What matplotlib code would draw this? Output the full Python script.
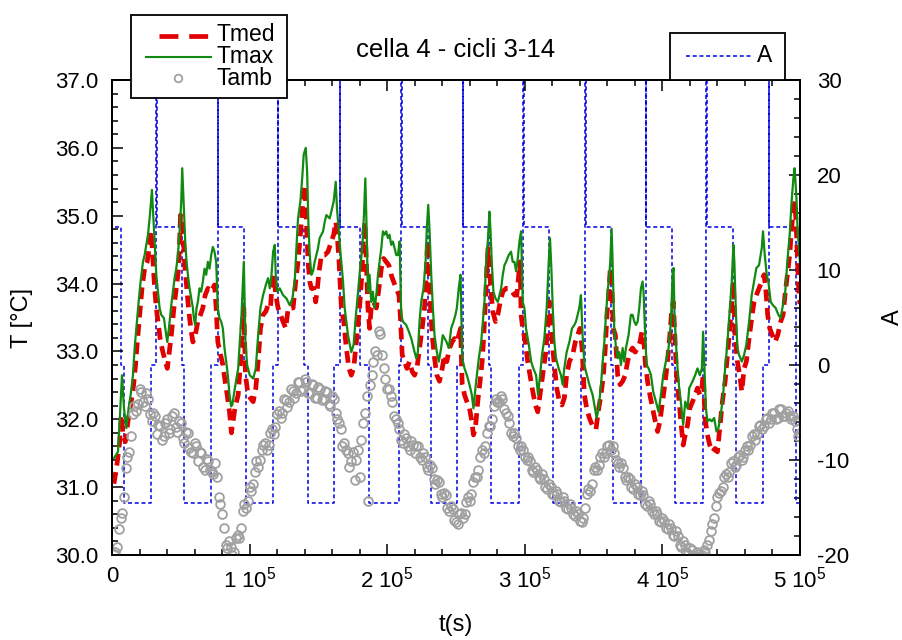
import numpy as np
import matplotlib
matplotlib.use('Agg')
import matplotlib.pyplot as plt
from matplotlib.lines import Line2D
from matplotlib.patches import Rectangle
from matplotlib.ticker import MultipleLocator, FormatStrFormatter

FONT = 'Liberation Sans'
plt.rcParams['font.family'] = [FONT, 'DejaVu Sans']
plt.rcParams['mathtext.fontset'] = 'custom'
plt.rcParams['mathtext.rm'] = FONT
plt.rcParams['mathtext.default'] = 'regular'
plt.rcParams['axes.unicode_minus'] = False
FS_TICK, FS_LEG, FS_LAB, FS_TITLE = 16, 16.5, 17, 18.5

# ---------------- data (time in kiloseconds) ----------------
tmax_t = [1.45, 4.35, 5.57, 7.26, 8.71, 10.40, 12.10, 13.55, 15.24, 16.45, 17.66, 19.35, 20.80, 22.50, 23.71,
          24.92, 26.13, 27.34, 29.03, 30.00, 30.97, 32.18, 33.38, 34.59, 35.80, 37.74, 38.70, 40.16, 41.37,
          43.06, 44.27, 45.48, 46.69, 47.90, 49.11, 50.32, 51.04, 52.25, 53.22, 54.19, 55.15, 56.36, 57.57,
          58.78, 59.50, 60.47, 61.44, 62.41, 63.62, 64.83, 66.04, 67.25, 68.46, 69.67, 70.88, 72.09, 73.30,
          74.50, 75.71, 76.92, 78.13, 79.34, 80.55, 81.76, 82.97, 84.18, 85.39, 86.60, 87.5, 89.3, 91.7, 94.1,
          95.8, 97.0, 98.2, 100.1, 102.6, 104.5, 106.2, 107.9, 109.8, 111.8, 113.4, 114.7, 115.9, 117.1, 118.3,
          119.0, 120.2, 121.9, 124.3, 126.8, 129.2, 131.1, 132.8, 134.0, 135.2, 136.9, 138.4, 139.3, 140.8,
          141.8, 142.7, 143.7, 144.9, 146.1, 147.3, 148.5, 149.7, 150.9, 153.4, 154.6, 155.8, 158.2, 159.4,
          161.1, 162.6, 163.5, 165.0, 166.2, 167.9, 169.1, 171.5, 173.9, 175.6, 177.1, 178.7, 180.4, 181.9,
          183.1, 184.1, 184.8, 186.0, 187.2, 188.4, 189.6, 190.8, 192.1, 193.3, 194.5, 195.7, 196.9, 198.1,
          199.3, 200.5, 201.7, 202.9, 204.1, 205.4, 206.6, 207.8, 209.0, 210.2, 211.4, 213.8, 215.8, 217.5,
          219.9, 221.1, 222.3, 223.5, 224.7, 226.4, 227.9, 228.8, 229.8, 230.8, 232.0, 233.2, 234.4, 236.1,
          237.5, 239.2, 240.4, 242.9, 244.8, 246.5, 248.2, 249.6, 250.6, 252.0, 253.3, 254.5, 256.2, 257.9,
          259.8, 261.5, 262.7, 264.6, 266.6, 268.3, 269.5, 270.7, 271.9, 273.1, 274.3, 275.0, 276.0, 277.2,
          278.7, 280.4, 281.6, 282.8, 284.0, 285.2, 286.4, 288.3, 290.0, 291.2, 292.5, 293.7, 294.9, 296.1,
          297.3, 298.5, 299.7, 300.9, 302.9, 304.6, 306.2, 308.2, 309.6, 311.1, 312.5, 314.2, 315.9, 317.4,
          318.3, 319.3, 320.3, 321.5, 322.7, 324.6, 326.3, 327.5, 328.7, 330.4, 332.4, 334.3, 336.0, 337.2,
          338.4, 339.6, 340.8, 342.0, 343.3, 344.5, 346.9, 349.3, 352.2, 353.7, 355.4, 356.6, 357.8, 359.0,
          360.2, 361.4, 362.1, 363.1, 363.8, 365.0, 366.3, 367.5, 368.7, 369.9, 371.1, 372.3, 373.5, 375.4,
          377.1, 378.3, 379.6, 380.8, 382.0, 383.2, 384.4, 385.6, 386.3, 387.5, 388.5, 390.0, 391.7, 393.3,
          395.3, 397.2, 398.9, 400.6, 402.5, 404.5, 406.2, 407.4, 408.1, 408.8, 409.8, 411.0, 412.2, 413.4,
          415.1, 416.6, 418.3, 419.5, 421.9, 423.8, 425.5, 427.2, 428.7, 429.6, 430.6, 431.6, 432.8, 434.5,
          435.9, 437.6, 439.3, 440.7, 442.4, 444.1, 445.6, 447.3, 449.0, 450.4, 451.6, 452.3, 453.3, 454.5,
          455.7, 457.7, 459.4, 461.0, 463.0, 464.9, 466.6, 468.3, 470.2, 472.2, 473.1, 474.4, 475.8, 477.0,
          478.7, 480.4, 482.3, 484.3, 486.0, 487.2, 489.1, 490.8, 492.5, 493.9, 495.2, 496.1, 497.3, 498.3,
          499.3, 500.0]
tmax_v = [31.43, 31.52, 31.97, 32.65, 32.16, 31.87, 32.16, 32.36, 32.65, 33.05, 33.34, 33.73, 34.03, 34.32, 34.42,
          34.57, 34.72, 34.96, 35.38, 35.01, 34.62, 34.13, 33.88, 33.64, 33.54, 33.49, 33.34, 33.14, 33.34,
          33.68, 33.88, 34.08, 34.22, 34.42, 34.76, 35.21, 35.70, 35.11, 34.62, 34.32, 34.13, 33.93, 33.78,
          33.64, 33.49, 33.39, 33.64, 33.73, 33.93, 33.88, 34.03, 34.22, 34.13, 34.32, 34.22, 34.42, 34.54,
          34.47, 34.32, 33.64, 33.49, 33.44, 33.34, 33.05, 32.85, 32.65, 32.36, 32.19, 32.22, 32.46, 32.75, 33.54,
          34.32, 33.14, 32.80, 32.65, 32.60, 32.75, 33.24, 33.64, 33.83, 33.98, 34.08, 33.93, 34.13, 34.47, 34.57,
          34.13, 33.88, 33.93, 33.83, 33.78, 33.68, 33.78, 34.03, 34.52, 34.96, 35.21, 35.60, 35.90, 36.00,
          35.65, 34.91, 34.42, 34.13, 34.18, 34.32, 34.42, 34.52, 34.67, 34.77, 34.91, 35.01, 34.96, 35.06,
          35.21, 35.50, 35.11, 34.72, 34.42, 34.03, 33.64, 33.24, 32.99, 33.10, 33.50, 33.85, 34.25, 34.52,
          35.01, 35.55, 35.01, 33.88, 34.13, 33.73, 33.88, 33.64, 33.83, 34.13, 34.32, 34.52, 34.77, 34.72,
          34.77, 34.67, 34.72, 34.57, 34.62, 34.52, 34.42, 34.42, 34.62, 33.54, 33.44, 33.39, 33.29, 33.19,
          32.99, 32.90, 32.99, 33.44, 33.73, 33.93, 34.32, 34.81, 35.16, 34.77, 34.13, 33.64, 33.24, 32.99,
          32.85, 33.05, 33.24, 33.15, 33.05, 33.34, 33.44, 33.54, 33.64, 33.93, 34.13, 32.90, 32.75, 32.65,
          32.51, 32.36, 32.16, 32.55, 32.90, 33.14, 33.44, 33.73, 34.32, 34.62, 35.06, 34.81, 34.32, 33.88,
          33.78, 33.73, 33.83, 33.93, 34.13, 34.27, 34.32, 34.42, 34.47, 34.32, 34.32, 34.18, 34.37, 34.62,
          34.77, 33.73, 33.64, 33.34, 33.10, 32.85, 32.75, 32.65, 32.36, 32.65, 32.95, 33.19, 33.64, 34.32,
          34.67, 34.23, 33.64, 33.14, 32.90, 32.75, 32.65, 32.51, 32.75, 32.99, 33.14, 33.34, 33.39, 33.44,
          33.54, 33.64, 33.83, 33.24, 32.80, 32.70, 32.51, 32.36, 32.02, 32.16, 32.51, 32.85, 33.14, 33.54,
          33.88, 34.13, 34.32, 34.81, 34.32, 33.34, 33.05, 32.90, 32.99, 32.80, 33.05, 32.85, 33.05, 33.24,
          33.54, 33.54, 33.44, 33.39, 33.44, 33.64, 33.93, 34.03, 33.88, 33.24, 32.80, 32.75, 32.65, 32.41,
          32.26, 32.11, 32.36, 32.65, 32.85, 33.05, 33.44, 34.13, 34.23, 33.54, 33.14, 32.75, 32.46, 32.26,
          31.92, 32.26, 32.16, 32.46, 32.56, 32.65, 32.75, 32.65, 32.75, 33.29, 32.75, 32.16, 31.97, 32.00,
          31.97, 32.02, 31.82, 31.87, 32.06, 32.36, 32.75, 33.14, 33.64, 34.03, 34.57, 34.32, 33.64, 33.05,
          32.95, 32.85, 32.95, 33.10, 33.44, 33.83, 34.03, 34.23, 34.27, 34.52, 34.77, 34.42, 34.13, 34.03,
          33.73, 33.68, 33.64, 33.54, 33.49, 33.64, 33.83, 34.32, 34.72, 35.21, 35.55, 35.70, 35.31, 34.77,
          34.52, 34.30]

tmed_t = [1.45, 3.9, 5.6, 6.8, 8.0, 9.7, 11.6, 13.5, 15.2, 16.9, 18.4, 20.1, 21.8, 23.7, 25.6, 27.3, 28.5,
          29.8, 31.0, 32.2, 33.4, 35.3, 37.0, 38.7, 40.2, 41.4, 43.1, 45.0, 46.7, 48.4, 49.8, 50.8, 51.8, 52.7,
          53.9, 55.2, 56.4, 57.6, 58.8, 60.5, 62.4, 64.3, 66.0, 67.7, 69.7, 71.6, 73.3, 74.5, 75.7, 76.9, 78.9,
          80.6, 82.2, 83.7, 85.4, 86.8, 89.3, 91.7, 93.4, 94.8, 95.8, 97.0, 98.9, 100.6, 102.6, 104.5, 106.2,
          107.9, 109.8, 111.8, 113.4, 115.1, 116.6, 117.8, 119.0, 120.7, 122.4, 124.3, 126.3, 128.0, 129.7,
          131.6, 133.5, 135.2, 136.9, 138.4, 140.1, 141.3, 142.5, 143.7, 144.9, 146.6, 148.0, 149.0, 150.5,
          152.2, 154.6, 157.0, 159.4, 161.1, 162.6, 163.5, 165.0, 166.7, 168.4, 170.3, 172.2, 173.9, 175.6,
          177.6, 179.5, 181.6, 182.9, 183.8, 184.8, 186.0, 187.2, 188.4, 190.1, 192.1, 194.0, 195.7, 197.4,
          199.3, 201.2, 202.9, 204.6, 206.6, 208.5, 209.5, 210.9, 212.6, 214.3, 216.2, 218.2, 219.9, 221.6,
          223.5, 225.4, 227.1, 228.3, 229.3, 230.3, 231.5, 232.7, 234.4, 236.1, 238.0, 240.0, 241.6, 243.3,
          245.3, 247.2, 248.9, 250.6, 252.0, 253.3, 254.5, 256.2, 257.9, 259.8, 261.5, 262.7, 264.1, 265.8,
          267.5, 269.0, 270.2, 271.4, 272.4, 273.3, 274.3, 275.5, 276.7, 278.7, 280.4, 282.1, 284.0, 286.4,
          288.3, 290.8, 292.5, 294.2, 295.6, 296.6, 297.3, 298.5, 300.4, 302.1, 303.8, 305.8, 307.7, 309.4,
          311.1, 313.0, 315.0, 316.6, 317.9, 319.1, 320.3, 321.7, 323.2, 325.1, 327.0, 328.7, 330.4, 332.4,
          334.8, 336.7, 338.4, 340.1, 341.6, 343.3, 345.0, 346.9, 349.3, 351.7, 353.7, 355.4, 357.1, 358.5,
          359.7, 360.9, 362.1, 363.1, 364.3, 365.8, 367.5, 369.2, 371.1, 373.0, 374.7, 376.4, 378.3, 380.3,
          382.0, 383.7, 385.1, 386.3, 387.5, 389.2, 390.9, 392.9, 394.8, 396.5, 398.2, 400.1, 402.1, 403.7,
          405.4, 406.9, 407.9, 408.8, 410.3, 411.7, 413.4, 415.1, 416.6, 418.3, 419.9, 421.9, 423.8, 425.5,
          427.2, 428.7, 429.6, 431.1, 432.7, 434.4, 436.4, 438.3, 440.0, 441.7, 443.6, 445.6, 447.3, 449.0,
          450.4, 451.6, 452.8, 454.5, 456.2, 457.7, 459.4, 461.0, 463.0, 464.9, 466.6, 468.3, 470.2, 472.2,
          473.9, 475.1, 476.5, 478.0, 479.9, 481.9, 483.8, 486.0, 487.7, 489.1, 490.8, 492.5, 493.9, 495.2,
          496.4, 497.3, 498.3, 499.3, 500.0]
tmed_v = [31.05, 31.38, 31.67, 32.06, 31.77, 31.67, 31.97, 32.21, 32.41, 32.75, 33.14, 33.54, 33.93, 34.22, 34.32,
          34.57, 34.77, 34.32, 33.93, 33.64, 33.44, 33.14, 32.99, 32.85, 32.75, 32.95, 33.24, 33.64, 33.93, 34.22,
          35.01, 34.91, 34.72, 34.32, 34.03, 33.73, 33.49, 33.29, 33.14, 33.24, 33.44, 33.54, 33.64, 33.83, 33.93,
          33.88, 33.93, 33.98, 33.64, 33.14, 32.95, 32.80, 32.56, 32.36, 32.11, 31.80, 32.16, 32.36, 32.85, 33.44,
          33.64, 32.65, 32.36, 32.31, 32.26, 32.46, 32.85, 33.34, 33.54, 33.59, 33.68, 33.64, 34.03, 34.13, 33.83,
          33.64, 33.54, 33.44, 33.34, 33.64, 33.64, 33.64, 34.03, 34.32, 34.72, 35.11, 35.45, 34.91, 34.32, 34.03,
          33.93, 33.93, 33.73, 33.88, 34.18, 34.42, 34.42, 34.47, 34.62, 34.72, 34.91, 34.77, 34.32, 33.64, 33.44,
          33.05, 32.75, 32.65, 32.75, 33.14, 33.54, 34.13, 34.72, 34.91, 34.32, 33.64, 33.34, 33.64, 33.73, 33.64,
          33.93, 34.22, 34.37, 34.32, 34.27, 34.13, 34.03, 33.93, 33.83, 33.54, 32.95, 32.85, 32.75, 32.85, 32.70,
          32.65, 32.75, 33.05, 33.34, 33.64, 34.13, 34.62, 34.32, 33.64, 33.24, 32.90, 32.65, 32.56, 32.75, 32.95,
          32.85, 33.05, 33.14, 33.19, 33.14, 33.24, 33.34, 32.51, 32.36, 32.26, 32.16, 31.97, 31.77, 31.87, 32.26,
          32.56, 32.85, 33.24, 33.73, 34.22, 34.52, 34.22, 33.88, 33.59, 33.44, 33.54, 33.73, 33.88, 33.93, 33.93,
          33.88, 33.83, 33.83, 34.13, 34.32, 33.54, 33.34, 33.14, 32.85, 32.65, 32.41, 32.21, 32.11, 32.36, 32.65,
          32.95, 33.34, 33.73, 33.44, 33.05, 32.75, 32.46, 32.26, 32.21, 32.31, 32.65, 32.85, 32.95, 33.14, 33.24,
          33.34, 33.05, 32.36, 32.16, 32.02, 31.90, 31.85, 32.16, 32.36, 32.65, 33.05, 33.54, 33.83, 34.22, 34.03,
          33.34, 33.24, 32.65, 32.51, 32.56, 32.65, 32.85, 32.99, 33.05, 32.99, 33.05, 33.14, 33.29, 33.24, 32.85,
          32.56, 32.36, 32.16, 31.97, 31.82, 31.97, 32.26, 32.56, 32.85, 33.24, 33.64, 33.73, 33.34, 32.65, 32.36,
          31.97, 31.62, 31.77, 31.92, 32.16, 32.26, 32.36, 32.46, 32.36, 32.46, 32.65, 32.00, 31.77, 31.62, 31.52,
          31.57, 31.52, 31.87, 32.26, 32.56, 32.95, 33.34, 33.73, 34.03, 33.24, 32.85, 32.65, 32.41, 32.75, 32.85,
          33.19, 33.49, 33.73, 33.83, 33.93, 34.03, 34.13, 33.93, 33.54, 33.34, 33.24, 33.14, 33.24, 33.44, 33.54,
          33.83, 34.13, 34.42, 34.81, 35.11, 35.21, 34.81, 34.32, 33.80, 33.70]

# Tamb: two interleaved sample sets (every 2.5 ks, offset by 1.25 ks)
tamb_a_t = np.arange(1, 201) * 2.5
tamb_a_v = [30.05, 30.38, 30.62, 31.28, 31.52, 32.08, 32.12, 32.45, 32.25, 32.38,
            32.08, 32.10, 31.78, 31.90, 31.75, 32.00, 31.85, 32.10, 31.82, 31.95,
            31.65, 31.80, 31.52, 31.65, 31.38, 31.50, 31.25, 31.38, 31.22, 31.35,
            30.85, 30.60, 30.15, 30.20, 30.00, 30.25, 30.25, 30.65, 30.70, 31.00,
            31.05, 31.38, 31.40, 31.62, 31.55, 31.80, 31.78, 32.08, 32.02, 32.30,
            32.18, 32.45, 32.32, 32.55, 32.42, 32.60, 32.38, 32.52, 32.32, 32.48,
            32.28, 32.42, 32.22, 32.35, 32.10, 31.95, 31.60, 31.55, 31.30, 31.52,
            31.40, 31.15, 31.95, 32.35, 32.50, 32.85, 32.95, 33.25, 32.75, 32.45,
            32.35, 32.05, 31.95, 31.70, 31.78, 31.60, 31.68, 31.50, 31.60, 31.40,
            31.45, 31.25, 31.28, 31.05, 31.08, 30.85, 30.88, 30.65, 30.68, 30.48,
            30.60, 30.55, 30.78, 30.80, 31.08, 31.15, 31.45, 31.50, 31.80, 31.90,
            32.20, 32.25, 32.35, 32.15, 32.05, 31.80, 31.80, 31.60, 31.60, 31.45,
            31.45, 31.25, 31.30, 31.15, 31.20, 31.00, 31.05, 30.90, 30.95, 30.80,
            30.85, 30.70, 30.75, 30.60, 30.65, 30.50, 30.55, 30.90, 30.95, 31.25,
            31.25, 31.45, 31.45, 31.60, 31.55, 31.50, 31.35, 31.35, 31.15, 31.15,
            31.00, 31.05, 30.90, 30.95, 30.75, 30.80, 30.65, 30.65, 30.50, 30.55,
            30.40, 30.45, 30.30, 30.35, 30.15, 30.20, 30.05, 30.10, 30.00, 30.05,
            29.98, 30.08, 30.15, 30.35, 30.55, 30.85, 30.95, 31.15, 31.15, 31.35,
            31.30, 31.45, 31.40, 31.55, 31.55, 31.75, 31.70, 31.90, 31.85, 32.00,
            31.95, 32.10, 32.00, 32.15, 32.05, 32.10, 32.05, 32.05, 31.85, 31.80]
tamb_b_t = np.arange(1, 201) * 2.5 - 1.25
tamb_b_v = [30.02, 30.12, 30.55, 30.85, 31.45, 31.75, 32.20, 32.22, 32.40, 32.20,
            32.30, 31.98, 32.05, 31.92, 31.70, 31.95, 31.80, 32.05, 31.88, 31.98,
            31.72, 31.82, 31.58, 31.50, 31.60, 31.52, 31.30, 31.42, 31.25, 31.20,
            31.15, 30.75, 30.40, 30.10, 30.12, 30.05, 30.30, 30.40, 30.75, 30.80,
            30.95, 31.22, 31.30, 31.55, 31.65, 31.62, 31.85, 31.88, 32.12, 32.10,
            32.28, 32.25, 32.42, 32.38, 32.55, 32.45, 32.55, 32.38, 32.50, 32.32,
            32.45, 32.30, 32.40, 32.20, 32.30, 32.00, 31.85, 31.65, 31.50, 31.38,
            31.10, 31.55, 31.70, 32.10, 30.80, 32.65, 33.00, 33.30, 32.95, 32.60,
            32.45, 32.25, 32.00, 31.85, 31.65, 31.72, 31.55, 31.62, 31.60, 31.45,
            31.50, 31.30, 31.32, 31.12, 31.10, 30.90, 30.92, 30.70, 30.72, 30.52,
            30.45, 30.62, 30.60, 30.85, 30.90, 31.15, 31.25, 31.55, 31.60, 31.90,
            32.00, 32.30, 32.25, 32.30, 32.10, 31.95, 31.75, 31.72, 31.55, 31.55,
            31.40, 31.38, 31.22, 31.25, 31.12, 31.12, 30.98, 31.00, 30.88, 30.90,
            30.78, 30.80, 30.68, 30.70, 30.58, 30.60, 30.48, 30.70, 30.98, 31.05,
            31.30, 31.32, 31.50, 31.50, 31.62, 31.60, 31.40, 31.30, 31.28, 31.10,
            31.12, 30.98, 31.00, 30.88, 30.88, 30.72, 30.75, 30.60, 30.60, 30.48,
            30.50, 30.38, 30.40, 30.28, 30.28, 30.12, 30.15, 30.02, 30.08, 29.98,
            30.02, 30.00, 30.05, 30.22, 30.45, 30.72, 30.92, 31.00, 31.20, 31.22,
            31.38, 31.32, 31.48, 31.45, 31.60, 31.62, 31.78, 31.78, 31.92, 31.90,
            32.02, 32.00, 32.10, 32.02, 32.15, 32.05, 32.12, 32.00, 31.98, 31.75]

a_t = [1.96, 6.31, 8.71, 28.08, 32.15,
       32.45, 50.80, 52.25, 72.06, 76.92,
       77.22, 95.79, 97.24, 117.06, 120.68,
       120.98, 139.33, 142.45, 161.10, 165.46,
       165.76, 179.97, 186.72, 208.49, 210.23,
       210.53, 229.54, 232.00, 250.58, 254.94,
       255.24, 274.31, 275.55, 296.09, 298.99,
       299.29, 317.86, 320.25, 340.86, 343.98,
       344.28, 362.63, 363.79, 384.40, 388.03,
       388.33, 407.33, 409.29, 429.61, 432.00,
       432.30, 451.37, 453.77, 473.15, 477.51,
       477.81, 496.89, 500.00]
a_v = [14.5, 0, -14.5, 0, 60,
       14.5, 0, -14.5, 0, 60,
       14.5, 0, -14.5, 0, 60,
       14.5, 0, -14.5, 0, 60,
       14.5, 0, -14.5, 0, 60,
       14.5, 0, -14.5, 0, 60,
       14.5, 0, -14.5, 0, 60,
       14.5, 0, -14.5, 0, 60,
       14.5, 0, -14.5, 0, 60,
       14.5, 0, -14.5, 0, 60,
       14.5, 0, -14.5, 0, 60,
       14.5, -14.5, -14.5]

series_labels = ['Tmed', 'Tmax', 'Tamb']
xtick_vals = [0, 1e5, 2e5, 3e5, 4e5, 5e5]
xtick_labels = ['0', '1 10$^5$', '2 10$^5$', '3 10$^5$', '4 10$^5$', '5 10$^5$']

KS = 1000.0
RED, GREEN, GRAY, BLUE = '#e00000', '#118a11', '#a0a0a0', '#0000e6'

W, H = 903, 640
fig = plt.figure(figsize=(W / 100, H / 100), dpi=100)
L, R, T, B = 112, 800, 80, 555
ax = fig.add_axes([L / W, 1 - B / H, (R - L) / W, (B - T) / H])
ax2 = ax.twinx()
ax.set_zorder(ax2.get_zorder() + 1)
ax.patch.set_visible(False)

ax2.plot(np.array(a_t) * KS, a_v, drawstyle='steps-post', color=BLUE, lw=1.1,
         linestyle=(0, (2.6, 1.8)))
ax.plot(np.array(tmed_t) * KS, tmed_v, color=RED, lw=3.4, linestyle=(0, (2.5, 1.4)),
        dash_capstyle='butt')
ax.plot(np.array(tmax_t) * KS, tmax_v, color=GREEN, lw=1.6)
ax.plot(tamb_a_t * KS, tamb_a_v, 'o', mfc='none', mec=GRAY, ms=6.3, mew=1.3)
ax.plot(tamb_b_t * KS, tamb_b_v, 'o', mfc='none', mec=GRAY, ms=6.3, mew=1.3)

ax.set_xlim(0, 5e5)
ax.set_ylim(30, 37)
ax2.set_ylim(-20, 30)

ax.set_xticks(xtick_vals, xtick_labels)
ax.xaxis.set_minor_locator(MultipleLocator(2e4))
ax.yaxis.set_major_locator(MultipleLocator(1.0))
ax.yaxis.set_minor_locator(MultipleLocator(0.2))
ax.yaxis.set_major_formatter(FormatStrFormatter('%.1f'))
ax2.yaxis.set_major_locator(MultipleLocator(10))
ax2.yaxis.set_minor_locator(MultipleLocator(2))

for a in (ax, ax2):
    for s in a.spines.values():
        s.set_linewidth(1.3)
ax.tick_params(which='both', direction='in', top=True, right=False, width=1.1, labelsize=FS_TICK)
ax.tick_params(which='major', length=8)
ax.tick_params(which='minor', length=4.5)
ax.tick_params(axis='y', pad=10)
ax.tick_params(axis='x', pad=8)
ax2.tick_params(which='both', direction='in', width=1.1, labelsize=FS_TICK, pad=12)
ax2.tick_params(which='major', length=8)
ax2.tick_params(which='minor', length=4.5)

ax.set_ylabel('T [°C]', fontsize=FS_LAB)
ax.yaxis.label.set_va('center')
ax.yaxis.set_label_coords((22 - L) / (R - L), 0.5)
ax2.set_ylabel('A', fontsize=FS_LAB, rotation=90)
ax2.yaxis.label.set_va('center')
ax2.yaxis.set_label_coords((893 - L) / (R - L), 0.5)
ax.set_xlabel('t(s)', fontsize=FS_LAB)
ax.xaxis.label.set_va('center')
ax.xaxis.set_label_coords(0.5, (B - 625) / (B - T))
ax.text(0.5, (B - 50) / (B - T), 'cella 4 - cicli 3-14', transform=ax.transAxes,
        ha='center', va='center', fontsize=FS_TITLE)

# ---- legends drawn in figure pixel space ----
def fx(x):
    return x / W

def fy(y):
    return 1 - y / H

def box(x0, y0, x1, y1):
    fig.add_artist(Rectangle((fx(x0), fy(y1)), fx(x1) - fx(x0), fy(y0) - fy(y1),
                             transform=fig.transFigure, fc='white', ec='black', lw=1.3, zorder=20))

box(131.5, 14.5, 287, 97.5)
fig.add_artist(Line2D([fx(159), fx(208)], [fy(35.7)] * 2, transform=fig.transFigure, color=RED,
                      lw=3.4, linestyle=(0, (4.0, 2.3)), dash_capstyle='butt', zorder=21))
fig.add_artist(Line2D([fx(146), fx(211)], [fy(57.3)] * 2, transform=fig.transFigure, color=GREEN,
                      lw=1.5, zorder=21))
fig.add_artist(Line2D([fx(178.3)], [fy(77.7)], transform=fig.transFigure, marker='o', mfc='none',
                      mec=GRAY, ms=5.5, mew=1.3, linestyle='none', zorder=21))
# the three entry labels are stacked tightly, as in the reference, in one text block
fig.text(fx(217), fy(56.5), '\n'.join(series_labels), ha='left', va='center',
         fontsize=FS_LEG, linespacing=0.97, zorder=22)

box(670, 33, 785, 79.5)
fig.add_artist(Line2D([fx(686), fx(751)], [fy(56)] * 2, transform=fig.transFigure, color=BLUE,
                      lw=1.1, linestyle=(0, (2.6, 1.8)), zorder=21))
fig.text(fx(757), fy(56), 'A', ha='left', va='center', fontsize=FS_LEG, zorder=22)

fig.savefig('out.png', dpi=100)
